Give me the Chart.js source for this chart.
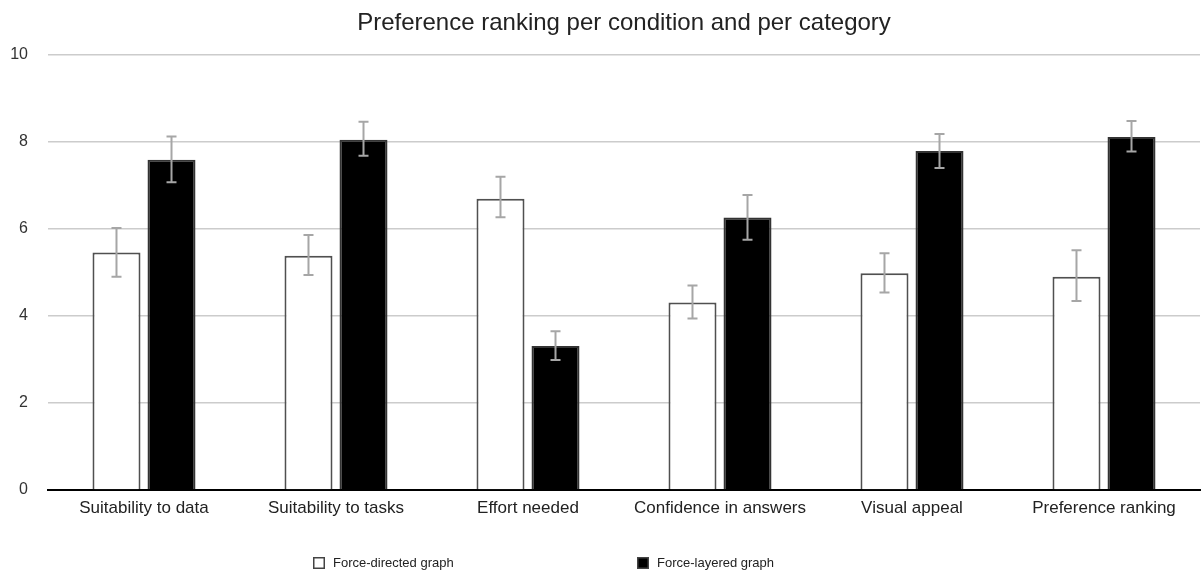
<!DOCTYPE html>
<html>
<head>
<meta charset="utf-8">
<script src="https://cdn.jsdelivr.net/npm/chart.js@4"></script>
<style>
  html, body { margin: 0; padding: 0; background: #fff; }
  #wrap { width: 1203px; height: 574px; }
</style>
</head>
<body>
<div id="wrap"><canvas id="chart" width="1203" height="574"></canvas></div>
<script>
const categories = ['Suitability to data', 'Suitability to tasks', 'Effort needed', 'Confidence in answers', 'Visual appeal', 'Preference ranking'];
const seriesNames = ['Force-directed graph', 'Force-layered graph'];

const directed = [5.46, 5.38, 6.69, 4.31, 4.98, 4.90];
const directedLow = [4.90, 4.94, 6.27, 3.94, 4.54, 4.34];
const directedHigh = [6.02, 5.86, 7.20, 4.70, 5.44, 5.51];

const layered = [7.59, 8.05, 3.31, 6.26, 7.79, 8.11];
const layeredLow = [7.07, 7.68, 2.99, 5.75, 7.40, 7.78];
const layeredHigh = [8.12, 8.46, 3.65, 6.78, 8.18, 8.48];

const yTicks = [0, 2, 4, 6, 8, 10];

const FONT = '"Liberation Sans", Arial, sans-serif';

// draws the grey error bars on top of each bar
const errorBars = {
  id: 'errorBars',
  afterDatasetsDraw(chart) {
    const ctx = chart.ctx;
    const y = chart.scales.y;
    ctx.save();
    ctx.strokeStyle = '#a6a6a6';
    ctx.lineWidth = 2;
    chart.data.datasets.forEach((ds, i) => {
      const meta = chart.getDatasetMeta(i);
      meta.data.forEach((bar, j) => {
        const top = y.getPixelForValue(ds.errHigh[j]);
        const bot = y.getPixelForValue(ds.errLow[j]);
        ctx.beginPath();
        ctx.moveTo(bar.x, top); ctx.lineTo(bar.x, bot);
        ctx.moveTo(bar.x - 5, top); ctx.lineTo(bar.x + 5, top);
        ctx.moveTo(bar.x - 5, bot); ctx.lineTo(bar.x + 5, bot);
        ctx.stroke();
      });
    });
    ctx.restore();
  }
};

// bottom legend with the two entries spread apart
const spreadLegend = {
  id: 'spreadLegend',
  afterDraw(chart, args, opts) {
    const ctx = chart.ctx;
    ctx.save();
    ctx.font = '13px ' + FONT;
    ctx.textBaseline = 'middle';
    chart.data.datasets.forEach((ds, i) => {
      const x = opts.itemX[i];
      const yc = opts.y;
      ctx.fillStyle = ds.backgroundColor;
      ctx.fillRect(x, yc - 6, 12, 12);
      ctx.strokeStyle = '#444';
      ctx.lineWidth = 1.5;
      ctx.strokeRect(x + 0.75, yc - 5.25, 10.5, 10.5);
      ctx.fillStyle = '#222';
      ctx.fillText(ds.label, x + 20, yc);
    });
    ctx.restore();
  }
};

new Chart(document.getElementById('chart'), {
  type: 'bar',
  data: {
    labels: categories,
    datasets: [
      {
        label: seriesNames[0],
        data: directed,
        errLow: directedLow,
        errHigh: directedHigh,
        backgroundColor: '#ffffff',
        borderColor: '#505050',
        borderWidth: 2,
        categoryPercentage: 0.573,
        barPercentage: 0.873
      },
      {
        label: seriesNames[1],
        data: layered,
        errLow: layeredLow,
        errHigh: layeredHigh,
        backgroundColor: '#000000',
        borderColor: '#333333',
        borderWidth: 2,
        categoryPercentage: 0.573,
        barPercentage: 0.873
      }
    ]
  },
  options: {
    responsive: false,
    animation: false,
    layout: { padding: { left: 0, right: 3, top: 0, bottom: 0 } },
    plugins: {
      legend: { display: false },
      tooltip: { enabled: false },
      title: {
        display: true,
        fullSize: false,
        text: 'Preference ranking per condition and per category',
        color: '#222',
        font: { family: FONT, size: 24, weight: 'normal', lineHeight: 1.2 },
        padding: { top: 9, bottom: 17 }
      },
      spreadLegend: { itemX: [313, 637], y: 563 }
    },
    scales: {
      x: {
        grid: { display: false, drawTicks: false },
        border: { display: true, color: '#000', width: 2 },
        ticks: { color: '#222', font: { family: FONT, size: 17 }, padding: 8, maxRotation: 0, autoSkip: false },
        afterFit: s => { s.height = 84; }
      },
      y: {
        min: 0,
        max: 10,
        afterBuildTicks: s => { s.ticks = yTicks.map(v => ({ value: v })); },
        grid: { color: '#cccccc', lineWidth: 1.5, drawTicks: false },
        border: { display: false },
        ticks: { color: '#333', font: { family: FONT, size: 16 }, padding: 20 },
        afterFit: s => { s.width = 48; }
      }
    }
  },
  plugins: [errorBars, spreadLegend]
});
</script>
</body>
</html>
